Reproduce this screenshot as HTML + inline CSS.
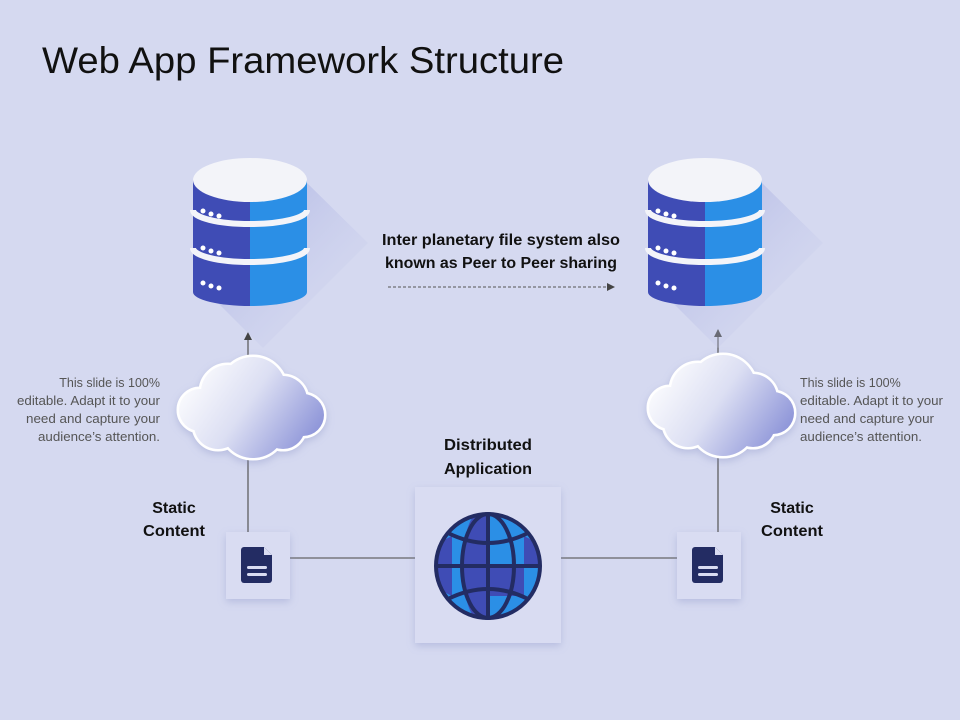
<!DOCTYPE html>
<html><head><meta charset="utf-8"><style>
html,body{margin:0;padding:0;background:#d5d9f0;}
svg{display:block;font-family:"Liberation Sans",sans-serif;}
</style></head><body>
<svg width="960" height="720" viewBox="0 0 960 720" xmlns="http://www.w3.org/2000/svg">
<defs>
<linearGradient id="sh" x1="0" y1="0" x2="1" y2="1">
<stop offset="0" stop-color="#9fa6de"/><stop offset="1" stop-color="#d5d9f0" stop-opacity="0"/>
</linearGradient>
<linearGradient id="cl" gradientUnits="userSpaceOnUse" x1="10" y1="10" x2="140" y2="100">
<stop offset="0" stop-color="#ffffff"/><stop offset="0.45" stop-color="#dcdff3"/><stop offset="1" stop-color="#8088d4"/>
</linearGradient>
<filter id="ds" x="-20%" y="-20%" width="140%" height="140%"><feDropShadow dx="0" dy="3" stdDeviation="4" flood-color="#8088c0" flood-opacity="0.35"/></filter>
<g id="db">
<polygon points="114,25 175,85 70,190 17,137" fill="url(#sh)" opacity="0.8"/>
<path d="M0,22 L0,134 A57,14 0 0 0 57,148 L57,22 Z" fill="#3f4cb5"/>
<path d="M57,22 L57,148 A57,14 0 0 0 114,134 L114,22 Z" fill="#2b8fe6"/>
<path d="M0,52 A57,14 0 0 0 114,52" fill="none" stroke="#f3f4f9" stroke-width="6"/>
<path d="M0,90 A57,14 0 0 0 114,90" fill="none" stroke="#f3f4f9" stroke-width="6"/>
<ellipse cx="57" cy="22" rx="57" ry="22" fill="#f3f4f9"/>
<g fill="#fff"><circle cx="10" cy="53" r="2.5"/><circle cx="18" cy="56" r="2.5"/><circle cx="26" cy="58" r="2.5"/>
<circle cx="10" cy="90" r="2.5"/><circle cx="18" cy="93" r="2.5"/><circle cx="26" cy="95" r="2.5"/>
<circle cx="10" cy="125" r="2.5"/><circle cx="18" cy="128" r="2.5"/><circle cx="26" cy="130" r="2.5"/></g>
</g>
<g id="cloudshape">
<circle cx="22" cy="55" r="21"/><circle cx="50" cy="37" r="27"/><circle cx="75" cy="35" r="33"/>
<circle cx="105" cy="45" r="24"/><circle cx="125" cy="60" r="21"/><circle cx="75" cy="70" r="33"/><circle cx="40" cy="70" r="24"/><circle cx="105" cy="72" r="22"/>
</g>
<g id="cloud">
<use href="#cloudshape" fill="#fff" stroke="#fff" stroke-width="5" filter="url(#ds)"/>
<use href="#cloudshape" fill="url(#cl)"/>
</g>
<g id="doc">
<rect x="0" y="0" width="64" height="67" fill="#d9dcf2" filter="url(#ds)"/>
<path d="M18,15 h20 l8,8 v25 a3,3 0 0 1 -3,3 h-25 a3,3 0 0 1 -3,-3 v-30 a3,3 0 0 1 3,-3z" fill="#232c63"/>
<path d="M38,15 v8 h8z" fill="#d9dcf2"/>
<rect x="21" y="34" width="20" height="3" rx="1.5" fill="#d9dcf2"/><rect x="21" y="41" width="20" height="3" rx="1.5" fill="#d9dcf2"/>
</g>
<marker id="ah" markerWidth="8" markerHeight="8" refX="7" refY="4" orient="auto" markerUnits="userSpaceOnUse"><path d="M0,0 L8,4 L0,8 Z" fill="#444"/></marker>
</defs>
<text x="42" y="73" font-size="37" fill="#111" textLength="522" lengthAdjust="spacingAndGlyphs">Web App Framework Structure</text>

<line x1="248" y1="532" x2="248" y2="333" stroke="#555" stroke-width="1.2" marker-end="url(#ah)"/>
<line x1="718" y1="532" x2="718" y2="330" stroke="#555" stroke-width="1.2" marker-end="url(#ah)"/>
<line x1="290" y1="558" x2="677" y2="558" stroke="#666" stroke-width="1.2"/>
<line x1="388" y1="287" x2="614" y2="287" stroke="#555" stroke-width="1" stroke-dasharray="3,2" marker-end="url(#ah)"/>

<use href="#db" x="193" y="158"/>
<use href="#db" x="648" y="158"/>
<use href="#cloud" x="178" y="355"/>
<use href="#cloud" x="648" y="353"/>
<use href="#doc" x="226" y="532"/>
<use href="#doc" x="677" y="532"/>

<rect x="415" y="487" width="146" height="156" fill="#d9dcf2" filter="url(#ds)"/>
<g transform="translate(488,566)">
<circle r="52" fill="#2b8fe6"/>
<path d="M-13,-51 A15,52 0 0 0 -13,51 L0,51 L0,-51Z" fill="#3f4cb5"/>
<path d="M-52,0 L-36,0 L-36,-30 L-46,-25Z M0,0 H36 V30 H0Z M36,-30 L46,-25 L52,0 L36,0Z M-36,0 V30 L-46,25 L-52,0Z" fill="#3f4cb5"/>
<g fill="none" stroke="#232c63" stroke-width="4">
<circle r="52"/>
<ellipse rx="26" ry="52"/>
<line x1="0" y1="-52" x2="0" y2="52"/>
<line x1="-52" y1="0" x2="52" y2="0"/>
<path d="M-40,-33 Q0,-13 40,-33"/>
<path d="M-40,33 Q0,13 40,33"/>
</g>
</g>

<g font-weight="bold" fill="#111" font-size="16" text-anchor="middle">
<text x="501" y="245" textLength="238" lengthAdjust="spacingAndGlyphs">Inter planetary file system also</text>
<text x="501" y="268" textLength="232" lengthAdjust="spacingAndGlyphs">known as Peer to Peer sharing</text>
<text x="488" y="450" textLength="88" lengthAdjust="spacingAndGlyphs">Distributed</text>
<text x="488" y="474" textLength="88" lengthAdjust="spacingAndGlyphs">Application</text>
<text x="174" y="513">Static</text>
<text x="174" y="536" textLength="62" lengthAdjust="spacingAndGlyphs">Content</text>
<text x="792" y="513">Static</text>
<text x="792" y="536" textLength="62" lengthAdjust="spacingAndGlyphs">Content</text>
</g>
<g font-size="12.5" fill="#555">
<g text-anchor="end">
<text x="160" y="387">This slide is 100%</text>
<text x="160" y="405" textLength="143" lengthAdjust="spacingAndGlyphs">editable. Adapt it to your</text>
<text x="160" y="423" textLength="134" lengthAdjust="spacingAndGlyphs">need and capture your</text>
<text x="160" y="441" textLength="122" lengthAdjust="spacingAndGlyphs">audience’s attention.</text>
</g>
<text x="800" y="387">This slide is 100%</text>
<text x="800" y="405" textLength="143" lengthAdjust="spacingAndGlyphs">editable. Adapt it to your</text>
<text x="800" y="423" textLength="134" lengthAdjust="spacingAndGlyphs">need and capture your</text>
<text x="800" y="441" textLength="122" lengthAdjust="spacingAndGlyphs">audience’s attention.</text>
</g>
</svg>
</body></html>
